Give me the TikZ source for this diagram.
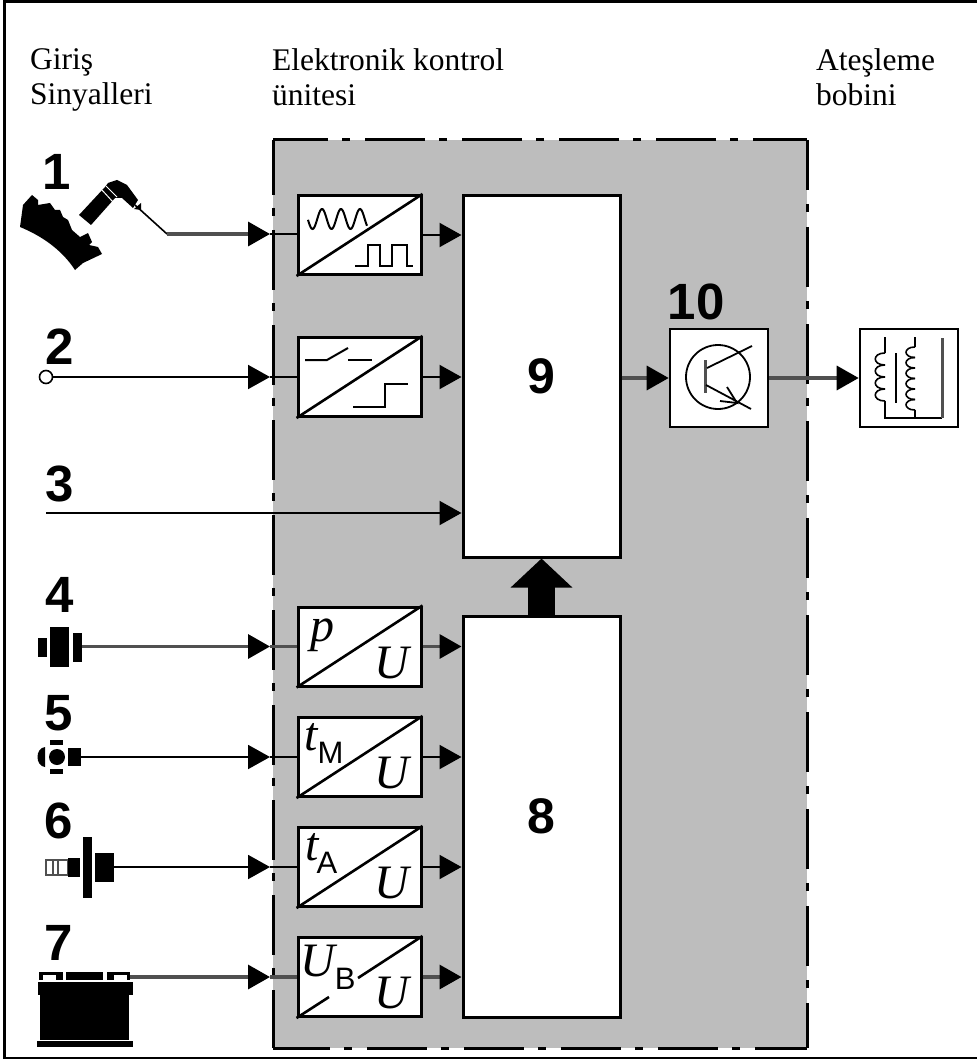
\documentclass[tikz,border=0pt]{standalone}
\usepackage{fontspec}
\setmainfont{Liberation Serif}
\setsansfont{Liberation Sans}
\usetikzlibrary{arrows.meta,positioning,calc}
\definecolor{EcuGray}{HTML}{BDBDBD}
\definecolor{WireGray}{HTML}{505050}
\newcommand{\lowsub}[1]{\raisebox{-13pt}{\fontsize{31}{31}\sffamily\upshape #1}}
\begin{document}
\begin{tikzpicture}[
x=1pt,y=-1pt,
conv/.style={draw,fill=white,line width=3,minimum width=123,minimum height=79,inner sep=0},
blockbox/.style={draw,fill=white,line width=3,minimum width=157,inner sep=0,font=\fontsize{50}{50}\sffamily\bfseries\selectfont},
smallbox/.style={draw,fill=white,line width=2.6,minimum width=98,minimum height=98,inner sep=0},
num/.style={inner sep=0,font=\fontsize{51}{51}\sffamily\bfseries\selectfont},
head/.style={inner sep=0,anchor=north west,align=left,font=\fontsize{31.5}{35}\selectfont},
letter/.style={inner sep=0,font=\fontsize{48}{48}\itshape\selectfont},
arr/.style={-{Triangle[length=22pt,width=24pt,color=black]},line width=2},
arrg/.style={arr,line width=3.4,draw=WireGray},
wire/.style={line width=2},
wireg/.style={line width=3.4,draw=WireGray},
diag/.style={line width=2.6},
thin1/.style={line width=1.6},
border/.style={line width=3,dash pattern=on 60pt off 14pt on 8pt off 15pt}
]
\useasboundingbox (0,0) rectangle (977,1059);
% frame and control unit
\draw[line width=3] (977,2) -- (4,2) -- (4,1058) -- (977,1058);
\node[head] (hin) at (30,48) {Giriş\\Sinyalleri};
\node[head] (hecu) at (272,48) {Elektronik kontrol\\ünitesi};
\node[head] (hcoil) at (816,48) {Ateşleme\\bobini};
\fill[EcuGray] (273,140) rectangle (807,1048);
\draw[border,dash phase=5pt] (273,140) -- (807,140);
\draw[border,dash pattern=on 60pt off 13pt on 8pt off 14pt,dash phase=5pt] (273,140) -- (273,1048);
\draw[border,dash phase=10pt] (807,140) -- (807,1048);
\draw[border,dash phase=3pt] (273,1048) -- (807,1048);
% converters
\node[conv] (cv1) at (359.5,235) {};
\node[conv] (cv2) at (359.5,377) {};
\node[conv] (cvp) at (359.5,646.5) {};
\node[conv] (cvm) at (359.5,757) {};
\node[conv] (cva) at (359.5,867) {};
\node[conv] (cvb) at (359.5,977) {};
\draw[diag] (cv1.south west) -- (cv1.north east);
\draw[diag] (cv2.south west) -- (cv2.north east);
\draw[diag] (cvp.south west) -- (cvp.north east);
\draw[diag] (cvm.south west) -- (cvm.north east);
\draw[diag] (cva.south west) -- (cva.north east);
\draw[diag] (cvb.south west) -- (329,997);
\draw[diag] (358,978) -- (cvb.north east);
% signal shapes
\draw[line width=2] plot[domain=308:367,samples=70,smooth] (\x,{219-10*cos(360*(\x-322)/19)});
\draw[line width=2] (355,266) -- (368,266) -- (368,245) -- (380,245) -- (380,266) -- (392,266) -- (392,245) -- (407,245) -- (407,266) -- (413,266);
\draw[line width=2] (305,360) -- (327,360) -- (348,348);
\draw[line width=2] (348,360) -- (372,360);
\draw[line width=2] (353,407) -- (385,407) -- (385,384) -- (408,384);
\node[letter] (lp) at (322,635) {p};
\node[letter] (lu1) at (392,663) {U};
\node[letter,anchor=base west] (lt1) at (304,750) {t\lowsub{M}};
\node[letter] (lu2) at (392,773) {U};
\node[letter,anchor=base west] (lt2) at (305,860) {t\kern-2pt\lowsub{A}};
\node[letter] (lu3) at (392,883) {U};
\node[letter,anchor=base west] (lub) at (300,976) {U\lowsub{B}};
\node[letter] (lu4) at (392,993) {U};
% blocks
\node[blockbox,minimum height=361] (block9) at (541.5,376.5) {9};
\node[blockbox,minimum height=401] (block8) at (541.5,816.5) {8};
\node[smallbox] (trans) at (719,378) {};
\node[smallbox] (coil) at (909,378) {};
\node[num] (n10) at (696,302) {10};
% transistor
\draw[line width=1.8] (718,377) circle (32);
\draw[line width=3,draw=WireGray] (705,360) -- (705,393);
\draw[line width=1.8] (707,368) -- (752,346);
\draw[line width=1.8] (706,385) -- (751,409);
\draw[line width=1.8] (727,387) -- (737,403) -- (720,401);
% coil
\foreach \yy in {353,365,377,389} {\draw[thin1] (885,\yy) .. controls (872,\yy) and (872,\yy+12) .. (885,\yy+12);}
\draw[thin1] (885,337) -- (885,353);
\draw[thin1] (885,401) -- (885,418) -- (942,418);
\draw[thin1] (896,353) -- (896,403);
\foreach \yy in {347,357.5,368,378.5,389,399.5} {\draw[thin1] (915,\yy) .. controls (903,\yy) and (903,\yy+10.5) .. (915,\yy+10.5);}
\draw[thin1] (915,337) -- (915,347);
\draw[thin1] (915,410) -- (915,418);
\draw[line width=3,draw=WireGray] (942,338) -- (942,418);
% sensors
\node[num] (n1) at (57,172) {1};
\fill (20,227) -- (23,205) -- (32,195) -- (38,200) -- (38,205) -- (50,203) -- (55,210) -- (60,210) -- (63,217) -- (68,220) -- (72,230) -- (80,237) -- (88,233) -- (92,242) -- (89,245) -- (98,247) -- (102,254) -- (83,263) -- (75,270) .. controls (62,250) and (42,236) .. (20,227) -- cycle;
\fill (79,215) -- (91,225) -- (115,198) -- (122,198) -- (133,208) -- (138,200) -- (127,185) -- (117,180) -- (108,183) -- (105,187) -- cycle;
\draw[white,line width=1] (102,190) -- (113,202);
\draw[white,line width=1] (106,186) -- (117,197);
\fill (141,203) -- (134,209) -- (141,210) -- cycle;
\coordinate (s1) at (135,205);
\coordinate (k1) at (167,234);
\coordinate (in1) at (270,234);
\draw[line width=1.6] (s1) -- (k1);
\draw[arrg] (k1) -- (in1);
\draw[wire] (in1) -- (cv1.west|-in1);
\node[num] (n2) at (60,347) {2};
\node[circle,draw,fill=white,line width=1.6,minimum size=13,inner sep=0] (term) at (46,377) {};
\coordinate (in2) at (270,377);
\draw[arr] (term) -- (in2);
\draw[wire] (in2) -- (cv2.west);
\node[num] (n3) at (60,484) {3};
\coordinate (s3) at (46,513);
\draw[arr] (s3) -- (s3-|block9.west);
\node[num] (n4) at (60,595) {4};
\fill (38,638) rectangle (47,657);
\fill (50,627) rectangle (69,667);
\fill (73,633) rectangle (82,662);
\coordinate (s4) at (82,646.5);
\coordinate (in4) at (270,646.5);
\draw[arrg] (s4) -- (in4);
\draw[wireg] (in4) -- (cvp.west);
\node[num] (n5) at (59,713) {5};
\fill (57,757) circle (8);
\fill (50,740) rectangle (63,745);
\fill (50,769) rectangle (63,774);
\fill (68,748) rectangle (81,766);
\fill (45,747) .. controls (35,748) and (35,766) .. (45,767) -- cycle;
\coordinate (s5) at (81,757);
\coordinate (in5) at (270,757);
\draw[arr] (s5) -- (in5);
\draw[wire] (in5) -- (cvm.west);
\node[num] (n6) at (59,821) {6};
\draw[draw=WireGray,line width=1.6] (46,860) rectangle (68,875);
\draw[WireGray,line width=1.2] (53,860) -- (53,875) (58,860) -- (58,875);
\fill (68,858) rectangle (80,877);
\fill (83,837) rectangle (92,898);
\fill (95,853) rectangle (114,882);
\coordinate (s6) at (114,867);
\coordinate (in6) at (270,867);
\draw[arr] (s6) -- (in6);
\draw[wire] (in6) -- (cva.west);
\node[num] (n7) at (59,943) {7};
\fill (40,990) rectangle (129,1040);
\fill (38,982) rectangle (133,995);
\fill (37,1041) rectangle (133,1047);
\fill (66,972) rectangle (103,980);
\fill (39,972) rectangle (63,980);
\fill (107,972) rectangle (130,980);
\fill[white] (43,975) rectangle (56,980);
\fill[white] (114,975) rectangle (127,980);
\coordinate (s7) at (130,977);
\coordinate (in7) at (270,977);
\draw[arrg] (s7) -- (in7);
\draw[wireg] (in7) -- (cvb.west);
% block links
\draw[arr] (cv1.east) -- (cv1.east-|block9.west);
\draw[arr] (cv2.east) -- (cv2.east-|block9.west);
\draw[arrg] (cvp.east) -- (cvp.east-|block8.west);
\draw[arr] (cvm.east) -- (cvm.east-|block8.west);
\draw[arr] (cva.east) -- (cva.east-|block8.west);
\draw[arrg] (cvb.east) -- (cvb.east-|block8.west);
\draw[arrg] (block9.east|-trans.west) -- (trans.west);
\draw[arrg] (trans.east) -- (coil.west);
\draw[line width=27,-{Triangle[length=29pt,width=60pt]}] (block8.north) -- (block9.south);
\end{tikzpicture}
\end{document}
